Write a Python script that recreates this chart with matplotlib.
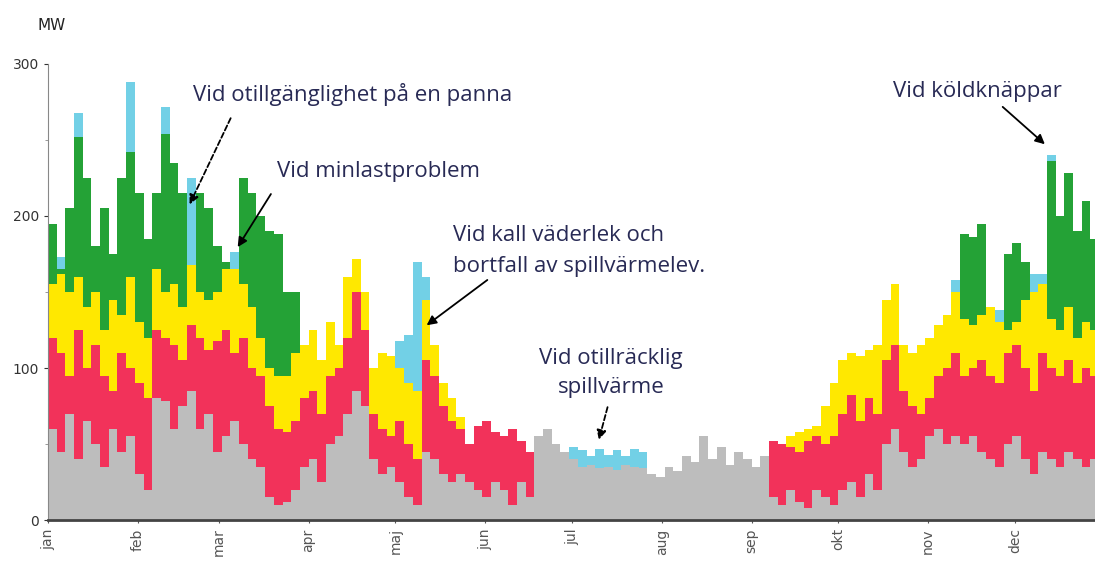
import numpy as np
import matplotlib
matplotlib.use("Agg")
import matplotlib.pyplot as plt

# top of each layer (MW) per 3-day block; 0 = layer not present
gray_top = [60, 45, 70, 40, 65, 50, 35, 60, 45, 55, 30,
            20, 80, 78, 60, 75, 85, 60, 70, 45, 55, 65,
            50, 40, 35, 15, 10, 12, 20, 35, 40, 25, 50,
            55, 70, 85, 75, 40, 30, 35, 25, 15, 10, 45,
            40, 30, 25, 30, 25, 20, 15, 25, 20, 10, 25,
            15, 55, 60, 50, 45, 40, 35, 36, 34, 35, 33,
            36, 35, 34, 30, 28, 35, 32, 42, 38, 55, 40,
            48, 36, 45, 40, 35, 42, 15, 10, 20, 12, 8,
            20, 15, 10, 20, 25, 15, 30, 20, 50, 60, 45,
            35, 40, 55, 60, 50, 55, 50, 55, 45, 40, 35,
            50, 55, 40, 30, 45, 40, 35, 45, 40, 35, 40, 38]
red_top = [120, 110, 95, 125, 100, 115, 95, 85, 110, 100, 90,
           80, 125, 120, 115, 105, 128, 120, 112, 118, 125, 110,
           120, 100, 95, 75, 60, 58, 65, 80, 85, 70, 95,
           100, 120, 150, 125, 70, 60, 55, 65, 50, 40, 105,
           95, 75, 65, 60, 50, 62, 65, 58, 55, 60, 52,
           45, 0, 0, 0, 0, 0, 0, 0, 0, 0, 0,
           0, 0, 0, 0, 0, 0, 0, 0, 0, 0, 0,
           0, 0, 0, 0, 0, 0, 52, 50, 48, 45, 52,
           55, 50, 55, 70, 82, 65, 80, 70, 105, 115, 85,
           75, 70, 80, 95, 100, 110, 95, 100, 105, 95, 90,
           110, 115, 100, 85, 110, 100, 95, 105, 90, 100, 95, 90]
yellow_top = [155, 162, 150, 160, 140, 150, 125, 145, 135, 160, 130,
              120, 165, 150, 155, 140, 168, 150, 145, 150, 165, 165,
              155, 140, 120, 100, 95, 95, 110, 115, 125, 105, 130,
              115, 160, 172, 150, 100, 110, 108, 100, 90, 85, 145,
              115, 90, 80, 68, 0, 0, 0, 0, 0, 0, 0,
              0, 0, 0, 0, 0, 0, 0, 0, 0, 0, 0,
              0, 0, 0, 0, 0, 0, 0, 0, 0, 0, 0,
              0, 0, 0, 0, 0, 0, 0, 0, 55, 58, 60,
              62, 75, 90, 105, 110, 108, 112, 115, 145, 155, 115,
              110, 115, 120, 128, 135, 150, 132, 128, 135, 140, 130,
              125, 130, 145, 150, 155, 132, 125, 140, 120, 130, 125, 120]
green_top = [195, 165, 205, 252, 225, 180, 205, 175, 225, 242, 215,
             185, 215, 254, 235, 215, 0, 215, 205, 180, 170, 0,
             225, 215, 200, 190, 188, 150, 150, 0, 0, 0, 0,
             0, 0, 0, 0, 0, 0, 0, 0, 0, 0, 0,
             0, 0, 0, 0, 0, 0, 0, 0, 0, 0, 0,
             0, 0, 0, 0, 0, 0, 0, 0, 0, 0, 0,
             0, 0, 0, 0, 0, 0, 0, 0, 0, 0, 0,
             0, 0, 0, 0, 0, 0, 0, 0, 0, 0, 0,
             0, 0, 0, 0, 0, 0, 0, 0, 0, 0, 0,
             0, 0, 0, 0, 0, 0, 188, 186, 195, 0, 0,
             175, 182, 170, 0, 0, 236, 200, 228, 190, 210, 185, 180]
cyan_top = [0, 173, 0, 268, 0, 0, 0, 0, 0, 288, 0,
            0, 0, 272, 0, 0, 225, 0, 0, 0, 0, 176,
            0, 0, 0, 0, 0, 0, 0, 0, 0, 0, 0,
            0, 0, 0, 0, 0, 0, 0, 118, 122, 170, 160,
            0, 0, 0, 0, 0, 0, 0, 0, 0, 0, 0,
            0, 0, 0, 0, 0, 48, 46, 42, 47, 43, 46,
            42, 47, 45, 0, 0, 0, 0, 0, 0, 0, 0,
            0, 0, 0, 0, 0, 0, 0, 0, 0, 0, 0,
            0, 0, 0, 0, 0, 0, 0, 0, 0, 0, 0,
            0, 0, 0, 0, 0, 158, 0, 0, 0, 0, 138,
            0, 0, 0, 162, 162, 240, 0, 0, 0, 0, 0, 0]

months = ["jan", "feb", "mar", "apr", "maj", "jun", "jul", "aug", "sep", "okt", "nov", "dec"]
month_start = [0, 31, 59, 90, 120, 151, 181, 212, 243, 273, 304, 334]

layers = [gray_top, red_top, yellow_top, green_top, cyan_top]
colors = ["#bdbdbd", "#f2325a", "#ffe800", "#24a236", "#72d0e6"]

fig = plt.figure(figsize=(10.95, 5.63), dpi=100)
ax = fig.add_axes([48 / 1095, 43 / 563, 1047 / 1095, 456 / 563])

days = np.arange(len(gray_top)) * 3
bottom = np.zeros(len(gray_top))
for tops, col in zip(layers, colors):
    top = np.maximum(bottom, np.array(tops, dtype=float))
    ax.bar(days, top - bottom, bottom=bottom, width=3, align="edge",
           color=col, linewidth=0)
    bottom = top

ax.set_xlim(0, 361.6)
ax.set_ylim(0, 300)
ax.set_yticks([0, 100, 200, 300])
ax.set_yticks([50, 150, 250], minor=True)
ax.set_xticks(month_start)
ax.set_xticklabels(months, rotation=90, fontsize=10, color="#555555")
ax.tick_params(axis="y", labelsize=10, colors="#333333", length=3)
ax.tick_params(axis="y", which="minor", length=2, colors="#888888")
ax.tick_params(axis="x", length=2, colors="#555555", pad=4)
for s in ["top", "right"]:
    ax.spines[s].set_visible(False)
ax.spines["left"].set_color("#888888")
ax.spines["bottom"].set_color("#444444")
ax.spines["bottom"].set_linewidth(2)

fig.text(52 / 1095, 1 - 26 / 563, "MW", fontsize=11, color="#222222", ha="center", va="center")

txt = dict(fontsize=16, color="#282a55", family=["Open Sans", "DejaVu Sans"])
arr_solid = dict(arrowstyle="-|>", color="black", lw=1.3, mutation_scale=14)
arr_dash = dict(arrowstyle="-|>", color="black", lw=1.3, mutation_scale=14, linestyle=(0, (3, 1.5)))

ax.text(50, 280, "Vid otillgänglighet på en panna", va="center", **txt)
ax.annotate("", xy=(48.5, 206), xytext=(63.5, 266), arrowprops=arr_dash)

ax.text(79, 229, "Vid minlastproblem", va="center", **txt)
ax.annotate("", xy=(65, 178), xytext=(77.5, 216), arrowprops=arr_solid)

ax.text(140, 177, "Vid kall väderlek och\nbortfall av spillvärmelev.", va="center",
        linespacing=1.6, **txt)
ax.annotate("", xy=(130, 127), xytext=(152.5, 159), arrowprops=arr_solid)

ax.text(194.5, 97, "Vid otillräcklig\nspillvärme", va="center", ha="center",
        linespacing=1.5, **txt)
ax.annotate("", xy=(190, 51), xytext=(193.5, 76), arrowprops=arr_dash)

ax.text(292, 282, "Vid köldknäppar", va="center", **txt)
ax.annotate("", xy=(345, 246), xytext=(329, 273), arrowprops=arr_solid)

fig.savefig("out.png", dpi=100)
